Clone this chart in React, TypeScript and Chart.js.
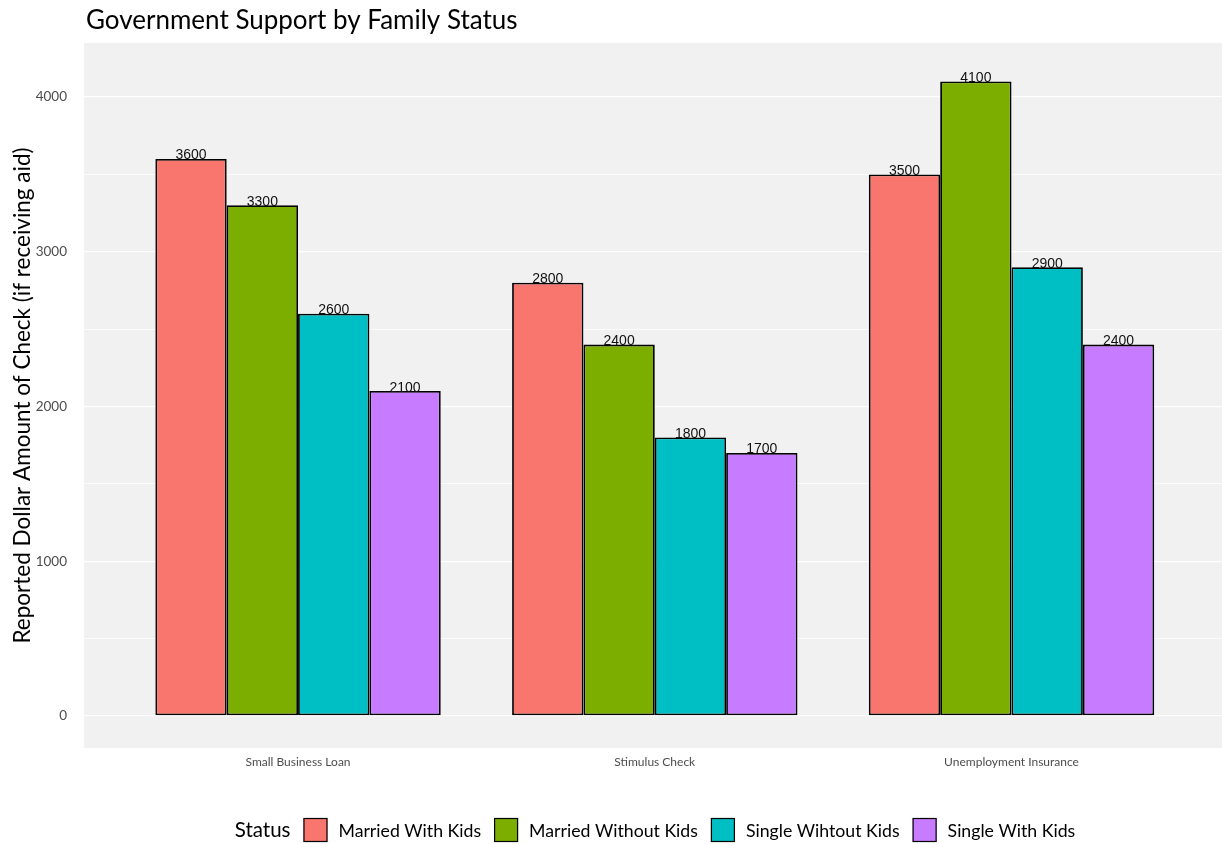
import React, { useEffect, useRef } from 'react';
import { Chart, registerables } from 'chart.js';

Chart.register(...registerables);

const categories = ['Small Business Loan', 'Stimulus Check', 'Unemployment Insurance'];
const seriesNames = ['Married With Kids', 'Married Without Kids', 'Single Wihtout Kids', 'Single With Kids'];
const marriedWithKids = [3600, 2800, 3500];
const marriedWithoutKids = [3300, 2400, 4100];
const singleWithoutKids = [2600, 1800, 2900];
const singleWithKids = [2100, 1700, 2400];
const seriesColors = ['#F8766D', '#7CAE00', '#00BFC4', '#C77CFF'];
const yTickValues = [0, 500, 1000, 1500, 2000, 2500, 3000, 3500, 4000];
const chartTitle = 'Government Support by Family Status';
const yAxisTitle = 'Reported Dollar Amount of Check (if receiving aid)';
const legendTitle = 'Status';

const FONT = 'Lato, "Open Sans", sans-serif';

export default function App() {
  const canvasRef = useRef<HTMLCanvasElement | null>(null);

  useEffect(() => {
    const canvas = canvasRef.current;
    if (!canvas) return;
    const allSeries = [marriedWithKids, marriedWithoutKids, singleWithoutKids, singleWithKids];

    const panelPlugin = {
      id: 'panelBg',
      beforeDraw(chart: any) {
        const { ctx, chartArea } = chart;
        ctx.save();
        ctx.fillStyle = '#F1F1F1';
        ctx.fillRect(chartArea.left, chartArea.top, chartArea.right - chartArea.left, chartArea.bottom - chartArea.top);
        ctx.restore();
      },
    };

    const valueLabelPlugin = {
      id: 'valueLabels',
      afterDatasetsDraw(chart: any) {
        const { ctx } = chart;
        ctx.save();
        ctx.font = '14px "Liberation Sans", Arial, sans-serif';
        ctx.fillStyle = '#111111';
        ctx.textAlign = 'center';
        ctx.textBaseline = 'alphabetic';
        chart.data.datasets.forEach((ds: any, i: number) => {
          const meta = chart.getDatasetMeta(i);
          meta.data.forEach((bar: any, j: number) => {
            ctx.fillText(String(ds.data[j].y), bar.x, bar.y + 0.5);
          });
        });
        ctx.restore();
      },
    };

    const titleLegendPlugin = {
      id: 'titleLegend',
      afterDraw(chart: any) {
        const { ctx, chartArea } = chart;
        ctx.save();
        // Title
        ctx.font = `26px ${FONT}`;
        ctx.fillStyle = '#000000';
        ctx.textAlign = 'left';
        ctx.textBaseline = 'alphabetic';
        ctx.fillText(chartTitle, chartArea.left + 2, 29);

        // Legend
        const titleFont = `20.5px ${FONT}`;
        const itemFont = `17.7px ${FONT}`;
        const box = 24;
        const gapTitle = 13;
        const gapBoxText = 11;
        const gapItems = 13;
        ctx.font = titleFont;
        const titleW = ctx.measureText(legendTitle).width;
        ctx.font = itemFont;
        const widths = seriesNames.map((n) => ctx.measureText(n).width);
        let total = titleW + gapTitle;
        widths.forEach((w, i) => {
          total += box + gapBoxText + w + (i < widths.length - 1 ? gapItems : 0);
        });
        const center = (chartArea.left + chartArea.right) / 2 + 2;
        let x = center - total / 2;
        const cy = 830;
        ctx.textBaseline = 'middle';
        ctx.font = titleFont;
        ctx.fillText(legendTitle, x, cy);
        x += titleW + gapTitle;
        ctx.font = itemFont;
        seriesNames.forEach((name, i) => {
          ctx.fillStyle = seriesColors[i];
          ctx.fillRect(x, cy - box / 2, box, box);
          ctx.strokeStyle = '#000000';
          ctx.lineWidth = 1.2;
          ctx.strokeRect(x + 0.5, cy - box / 2 + 0.5, box - 1, box - 1);
          x += box + gapBoxText;
          ctx.fillStyle = '#000000';
          ctx.fillText(name, x, cy + 1);
          x += widths[i] + gapItems;
        });
        ctx.restore();
      },
    };

    const chart = new Chart(canvas, {
      type: 'bar',
      data: {
        datasets: seriesNames.map((name, i) => ({
          label: name,
          data: allSeries[i].map((v, j) => ({ x: j, y: v })),
          backgroundColor: seriesColors[i],
          borderColor: '#000000',
          borderWidth: 1.8,
          borderSkipped: false,
          categoryPercentage: 0.8,
          barPercentage: 1.0,
        })),
      },
      options: {
        animation: false,
        responsive: false,
        maintainAspectRatio: false,
        layout: { padding: { top: 43, left: 0, right: 0, bottom: 0 } },
        plugins: {
          legend: { display: false },
          title: { display: false },
          tooltip: { enabled: false },
        },
        scales: {
          x: {
            type: 'linear',
            min: -0.6,
            max: 2.59,
            offset: false,
            grid: { display: false, offset: false },
            border: { display: false },
            afterBuildTicks: (scale: any) => {
              scale.ticks = categories.map((_, i) => ({ value: i }));
            },
            afterFit: (scale: any) => {
              scale.height = 96;
            },
            ticks: {
              autoSkip: false,
              maxRotation: 0,
              padding: -1,
              color: '#4D4D4D',
              font: { family: FONT, size: 12 },
              callback: (v: any) => categories[Math.round(Number(v))] ?? '',
            },
          },
          y: {
            type: 'linear',
            min: -207,
            max: 4349,
            afterBuildTicks: (scale: any) => {
              scale.ticks = yTickValues.map((v) => ({ value: v }));
            },
            afterFit: (scale: any) => {
              scale.width = 84;
            },
            border: { display: false },
            grid: {
              color: '#FFFFFF',
              lineWidth: (ctx: any) => (ctx.tick && ctx.tick.value % 1000 === 0 ? 1.3 : 0.7),
              drawTicks: false,
            },
            ticks: {
              padding: 17,
              color: '#4D4D4D',
              font: { family: FONT, size: 13.5 },
              callback: (v: any) => (Number(v) % 1000 === 0 ? String(v) : ''),
            },
            title: {
              display: true,
              text: yAxisTitle,
              color: '#000000',
              font: { family: FONT, size: 22.5 },
              padding: { top: 9, bottom: 0 },
            },
          },
        },
      },
      plugins: [panelPlugin, valueLabelPlugin, titleLegendPlugin],
    });

    return () => chart.destroy();
  }, []);

  return (
    <div style={{ position: 'fixed', left: 0, top: 0, width: 1222, height: 844, background: '#FFFFFF' }}>
      <canvas ref={canvasRef} width={1222} height={844} style={{ width: 1222, height: 844, display: 'block' }} />
    </div>
  );
}
